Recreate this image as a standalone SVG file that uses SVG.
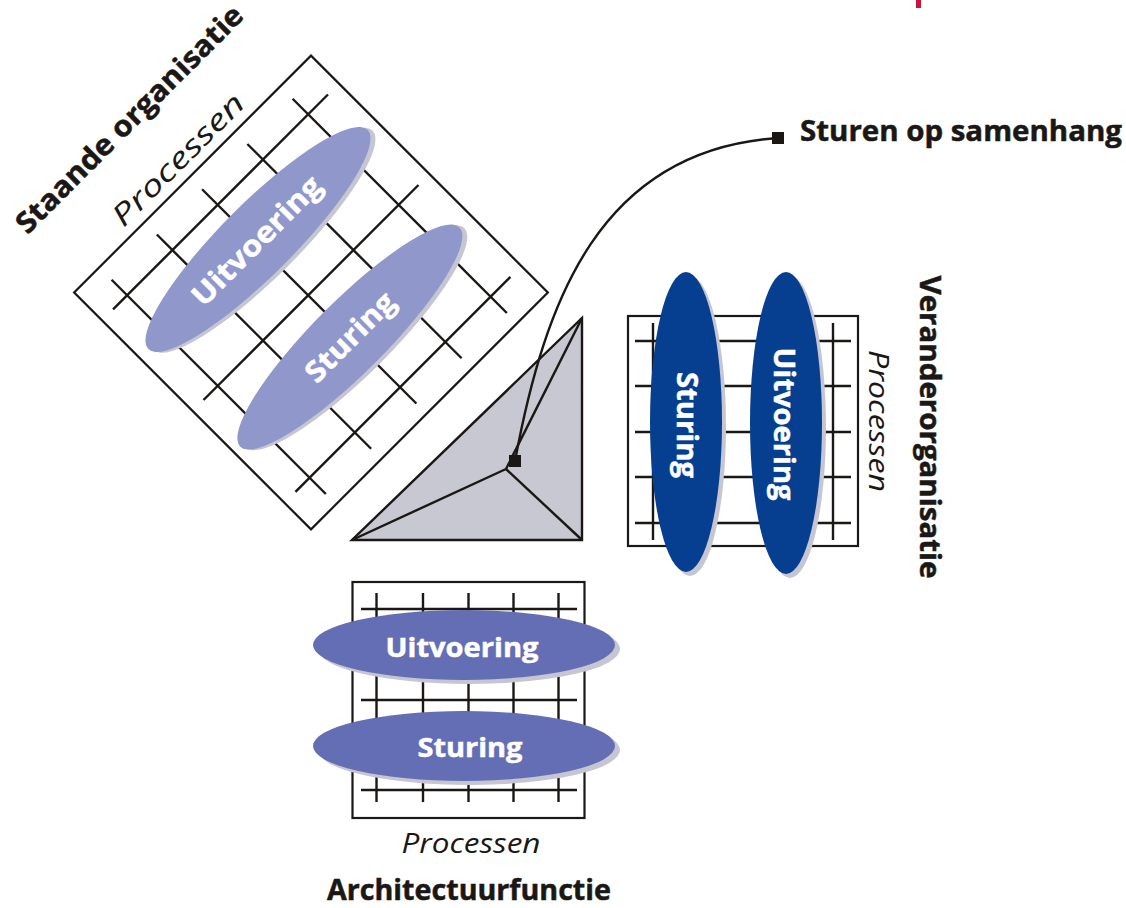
<svg xmlns="http://www.w3.org/2000/svg" width="1126" height="908" viewBox="0 0 1126 908">
<style>
.ln{stroke:#1a1715;stroke-width:2.4;fill:none;stroke-linecap:butt}
.frame{stroke:#1a1715;stroke-width:2.2;fill:#fff}
.sh{fill:#c5c6d2}
.e1{fill:#8f97cb}
.e2{fill:#646eb4}
.e3{fill:#063f8f}
.et{font-family:"Open Sans","Liberation Sans",sans-serif;font-weight:700;fill:#fff;stroke:#fff;stroke-width:0.5;text-anchor:middle}
.lb{font-family:"Open Sans","Liberation Sans",sans-serif;font-weight:700;fill:#1a1715;stroke:#1a1715;stroke-width:0.5;text-anchor:middle}
.it{font-family:"Open Sans","Liberation Sans",sans-serif;font-style:italic;fill:#1a1715;text-anchor:middle}
</style>
<rect x="0" y="0" width="1126" height="908" fill="#fff"/>
<rect x="916" y="0" width="5" height="8" fill="#d0103a"/>

<g id="staande-organisatie" transform="translate(311,292.5) rotate(-45)">
  <rect class="frame" x="-167.5" y="-167.5" width="335" height="335"/>
  <g class="ln">
    <line x1="-152" y1="-128" x2="152" y2="-128"/>
    <line x1="-152" y1="0" x2="152" y2="0"/>
    <line x1="-152" y1="130" x2="152" y2="130"/>
    <line x1="-132" y1="-150" x2="-132" y2="153"/>
    <line x1="-68" y1="-150" x2="-68" y2="153"/>
    <line x1="-4" y1="-150" x2="-4" y2="153"/>
    <line x1="60" y1="-150" x2="60" y2="153"/>
    <line x1="124" y1="-150" x2="124" y2="153"/>
  </g>
  <ellipse class="sh" cx="3" cy="-71" rx="155" ry="36"/>
  <ellipse class="e1" cx="0" cy="-75" rx="155" ry="36"/>
  <ellipse class="sh" cx="-1" cy="63" rx="155" ry="36"/>
  <ellipse class="e1" cx="-4" cy="59" rx="155" ry="36"/>
  <text class="et" x="-2" y="-65" font-size="29" textLength="170" lengthAdjust="spacingAndGlyphs">Uitvoering</text>
  <text class="et" x="-4" y="69" font-size="29" textLength="114" lengthAdjust="spacingAndGlyphs">Sturing</text>
  <text class="lb" x="-6" y="-241" font-size="29" textLength="308" lengthAdjust="spacingAndGlyphs">Staande organisatie</text>
  <text class="it" x="0" y="-178" font-size="29" textLength="174" lengthAdjust="spacingAndGlyphs">Processen</text>
</g>

<g id="veranderorganisatie">
  <rect class="frame" x="628" y="316" width="230" height="230"/>
  <g class="ln">
    <line x1="635" y1="341" x2="851" y2="341"/>
    <line x1="635" y1="386" x2="851" y2="386"/>
    <line x1="635" y1="432" x2="851" y2="432"/>
    <line x1="635" y1="477" x2="851" y2="477"/>
    <line x1="635" y1="523" x2="851" y2="523"/>
    <line x1="653" y1="323" x2="653" y2="540"/>
    <line x1="833" y1="323" x2="833" y2="540"/>
  </g>
  <ellipse class="sh" cx="690" cy="426" rx="36" ry="150"/>
  <ellipse class="e3" cx="686" cy="422" rx="36" ry="150"/>
  <ellipse class="sh" cx="790" cy="427" rx="36" ry="151"/>
  <ellipse class="e3" cx="786" cy="423" rx="36" ry="151"/>
  <text class="et" transform="translate(677,425) rotate(90)" font-size="28" textLength="106" lengthAdjust="spacingAndGlyphs">Sturing</text>
  <text class="et" transform="translate(774,424) rotate(90)" font-size="28" textLength="153" lengthAdjust="spacingAndGlyphs">Uitvoering</text>
  <text class="lb" transform="translate(920,427) rotate(90)" font-size="28" textLength="303" lengthAdjust="spacingAndGlyphs">Veranderorganisatie</text>
  <text class="it" transform="translate(869,421) rotate(90)" font-size="28" textLength="142" lengthAdjust="spacingAndGlyphs">Processen</text>
</g>

<g id="architectuurfunctie">
  <rect class="frame" x="352.5" y="582" width="232" height="236"/>
  <g class="ln">
    <line x1="361" y1="609" x2="577" y2="609"/>
    <line x1="361" y1="700" x2="577" y2="700"/>
    <line x1="361" y1="790" x2="577" y2="790"/>
    <line x1="376.5" y1="593" x2="376.5" y2="802"/>
    <line x1="423" y1="593" x2="423" y2="802"/>
    <line x1="468.5" y1="593" x2="468.5" y2="802"/>
    <line x1="513.5" y1="593" x2="513.5" y2="802"/>
    <line x1="558.5" y1="593" x2="558.5" y2="802"/>
  </g>
  <ellipse class="sh" cx="469" cy="649" rx="151" ry="35"/>
  <ellipse class="e2" cx="464" cy="645" rx="151" ry="35"/>
  <ellipse class="sh" cx="469" cy="750" rx="151" ry="35"/>
  <ellipse class="e2" cx="464" cy="746" rx="151" ry="35"/>
  <text class="et" x="462" y="657" font-size="27" textLength="153" lengthAdjust="spacingAndGlyphs">Uitvoering</text>
  <text class="et" x="470" y="757" font-size="27" textLength="105" lengthAdjust="spacingAndGlyphs">Sturing</text>
  <text class="it" x="471" y="853" font-size="28" textLength="139" lengthAdjust="spacingAndGlyphs">Processen</text>
  <text class="lb" x="469" y="900" font-size="28" textLength="284" lengthAdjust="spacingAndGlyphs">Architectuurfunctie</text>
</g>

<g id="samenhang">
  <polygon points="352,540 582,540 582,318" fill="#c8c8d2" stroke="#1a1715" stroke-width="2.4" stroke-linejoin="miter"/>
  <g class="ln">
    <line x1="506" y1="469" x2="352" y2="540"/>
    <line x1="506" y1="469" x2="582" y2="540"/>
    <line x1="506" y1="469" x2="582" y2="318"/>
  </g>
</g>

<g id="connectors">
  <path class="ln" d="M515,461 C545,300 600,150 778,138"/>
  <rect x="509" y="455" width="12" height="12" fill="#1a1715"/>
  <rect x="772" y="132" width="12" height="12" fill="#1a1715"/>
</g>

<g id="sturen-op-samenhang">
  <text class="lb" x="961" y="141" font-size="28" textLength="322" lengthAdjust="spacingAndGlyphs">Sturen op samenhang</text>
</g>
</svg>
